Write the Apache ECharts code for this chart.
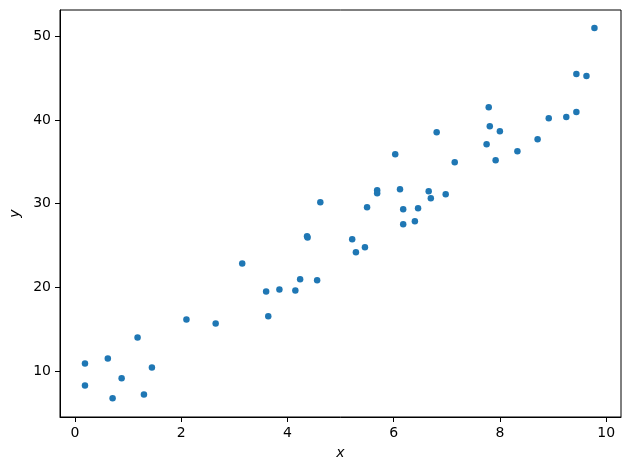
<!DOCTYPE html>
<html>
<head>
<meta charset="utf-8">
<script src="https://cdn.jsdelivr.net/npm/echarts@6/dist/echarts.min.js"></script>
<style>html,body{margin:0;padding:0;background:#fff}#c{width:630px;height:470px}</style>
</head>
<body>
<div id="c"></div>
<script>
const xValues = [0.19,0.19,0.62,0.71,0.88,1.18,1.30,1.45,2.10,2.65,3.15,
  3.60,3.64,3.85,4.15,4.24,4.37,4.38,4.56,4.62,5.22,5.29,5.46,5.50,5.69,5.69,6.03,6.12,6.18,6.18,6.40,6.46,6.66,6.70,6.81,
  6.98,7.15,7.75,7.79,7.81,7.92,8.00,8.33,8.71,8.92,9.25,9.44,9.44,9.63,9.78];
const yValues = [10.89,8.25,11.49,6.73,9.13,14.0,7.17,10.41,16.16,15.68,22.86,
  19.51,16.55,19.75,19.63,20.95,26.1,25.95,20.83,30.17,25.74,24.18,24.78,29.57,31.60,31.25,35.92,31.72,29.33,27.53,27.89,29.45,31.48,30.65,38.55,
  31.13,34.96,37.11,41.54,39.27,35.20,38.67,36.27,37.71,40.23,40.35,40.95,45.50,45.26,51.0];
const xTicks = [0,2,4,6,8,10];
const yTicks = [10,20,30,40,50];

const points = xValues.map((x,i)=>[x,yValues[i]]);
const font = 'DejaVu Sans';
const chart = echarts.init(document.getElementById('c'), null, {renderer:'canvas'});
chart.setOption({
  animation:false,
  backgroundColor:'#fff',
  grid:{left:58,right:9,top:10,bottom:53,show:true,borderColor:'#000',borderWidth:1,backgroundColor:'transparent'},
  xAxis:{type:'value',min:-0.28,max:10.28,
    name:'x',nameLocation:'middle',nameGap:29,
    nameTextStyle:{fontFamily:font,fontStyle:'italic',fontSize:14,color:'#000'},
    axisLine:{show:true,onZero:false,lineStyle:{color:'#000',width:1}},
    axisTick:{show:true,length:5,inside:false,customValues:xTicks,lineStyle:{color:'#000'}},
    axisLabel:{customValues:xTicks,margin:9,fontFamily:font,fontSize:14,color:'#000'},
    splitLine:{show:false}},
  yAxis:{type:'value',min:4.49,max:53.16,
    name:'y',nameLocation:'middle',nameGap:38,nameRotate:90,
    nameTextStyle:{fontFamily:font,fontStyle:'italic',fontSize:14,color:'#000'},
    axisLine:{show:true,onZero:false,lineStyle:{color:'#000',width:1}},
    axisTick:{show:true,length:5,inside:false,customValues:yTicks,lineStyle:{color:'#000'}},
    axisLabel:{customValues:yTicks,margin:9,fontFamily:font,fontSize:14,color:'#000'},
    splitLine:{show:false}},
  series:[{type:'scatter',data:points,symbolSize:6.5,
    itemStyle:{color:'#1f77b4',opacity:1}}]
});
</script>
</body>
</html>
